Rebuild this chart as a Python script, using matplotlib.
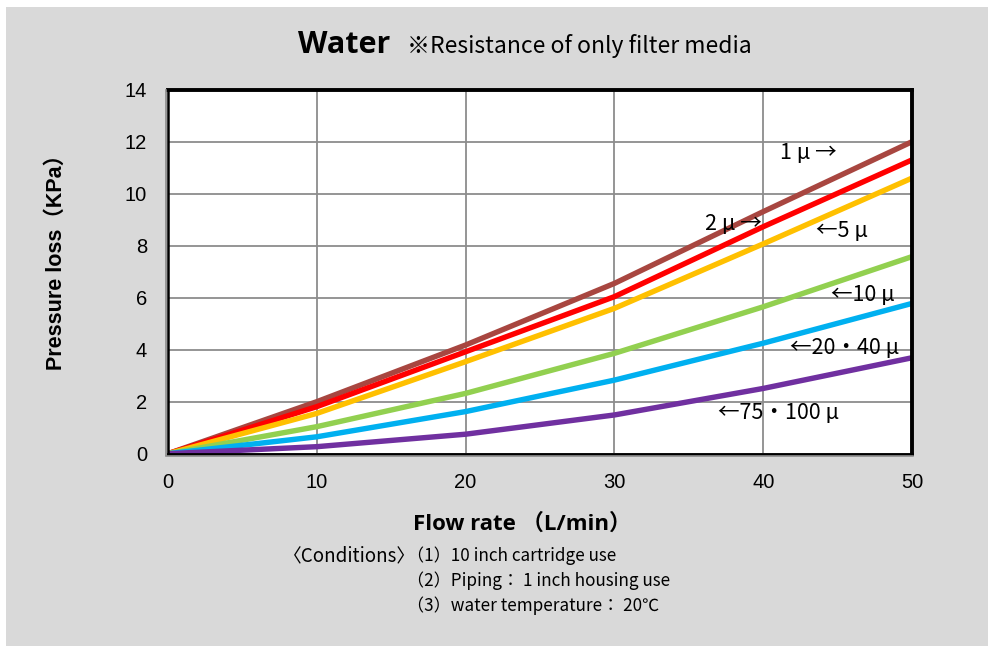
import matplotlib
matplotlib.use("Agg")
import matplotlib.pyplot as plt
from matplotlib.patches import Rectangle
from matplotlib.lines import Line2D

# flow rate (L/min) and pressure loss (KPa)
flow = [0, 10, 20, 30, 40, 50]
loss_1 = [0, 2.0, 4.18, 6.55, 9.31, 12.0]
loss_2 = [0, 1.81, 3.92, 6.04, 8.73, 11.3]
loss_5 = [0, 1.55, 3.54, 5.59, 8.07, 10.6]
loss_10 = [0, 1.04, 2.32, 3.86, 5.65, 7.58]
loss_20_40 = [0, 0.65, 1.62, 2.83, 4.25, 5.78]
loss_75_100 = [0, 0.27, 0.75, 1.49, 2.51, 3.69]

series = [
    (loss_1, "#A84640"),
    (loss_2, "#FF0000"),
    (loss_5, "#FFC000"),
    (loss_10, "#92D050"),
    (loss_20_40, "#00B0F0"),
    (loss_75_100, "#7030A0"),
]

# curve labels: text, x, y in data units
labels = [
    ("1 \u03bc \u2192", 43.0, 11.55),
    ("2 \u03bc \u2192", 38.0, 8.85),
    ("\u21905 \u03bc", 45.3, 8.55),
    ("\u219010 \u03bc", 46.7, 6.1),
    ("\u219020\u30fb40 \u03bc", 45.5, 4.05),
    ("\u219075\u30fb100 \u03bc", 41.0, 1.55),
]

W, H = 988, 646
fig = plt.figure(figsize=(W / 100, H / 100), dpi=100, facecolor="white")
fig.patches.append(Rectangle((6 / W, 0), 1, 1 - 7 / H, transform=fig.transFigure,
                             facecolor="#D9D9D9", edgecolor="none", zorder=-10))

ax = fig.add_axes([168 / W, 1 - 453.7 / H, 744 / W, 364 / H])
ax.set_facecolor("white")
for vals, col in series:
    ax.plot(flow, vals, color=col, lw=3.9, solid_capstyle="butt", zorder=3)

ax.set_xlim(0, 50)
ax.set_ylim(0, 14)
ax.set_xticks(range(0, 51, 10))
ax.set_yticks(range(0, 15, 2))
ax.grid(True, color="#8C8C8C", lw=1.3)
ax.set_axisbelow(True)
ax.tick_params(length=0, labelsize=14.5)
for t in ax.get_xticklabels() + ax.get_yticklabels():
    t.set_family("Liberation Sans")
ax.tick_params(axis="y", pad=15)
ax.tick_params(axis="x", pad=14)

for side in ["top", "right"]:
    ax.spines[side].set_linewidth(2.8)
ax.spines["left"].set_linewidth(1.8)
ax.spines["bottom"].set_linewidth(2.0)
for s in ax.spines.values():
    s.set_color("black")
    s.set_zorder(5)
# grey outer edge along the left and bottom, like the original frame
fig.add_artist(Line2D([166 / W, 166 / W], [1 - 455 / H, 1 - 90 / H], color="#8C8C8C", lw=1.2))
fig.add_artist(Line2D([166 / W, 913 / W], [1 - 455.5 / H, 1 - 455.5 / H], color="#8C8C8C", lw=1.2))

cjk = ["Noto Sans CJK JP", "DejaVu Sans"]
for txt, x, y in labels:
    ax.text(x, y, txt, fontsize=15.5, family=cjk, ha="center", va="center", zorder=4)

ax.set_ylabel("Pressure loss\uff08KPa\uff09", fontsize=15.5, fontweight="bold",
              family=["Liberation Sans", "Noto Sans CJK JP"])
ax.yaxis.set_label_coords(-0.136, 0.54)

fig.text(298 / W, 1 - 45 / H, "Water", fontsize=22, fontweight="bold",
         family=["Open Sans", "Noto Sans CJK JP"], va="center", ha="left")
fig.text(407 / W, 1 - 46 / H, "\u203bResistance of only filter media", fontsize=16.5,
         family=["Noto Sans CJK JP"], va="center", ha="left")

fig.text(522 / W, 1 - 524 / H, "Flow rate \uff08L/min\uff09", fontsize=16, fontweight="bold",
         family=["Open Sans", "Noto Sans CJK JP"], va="center", ha="center")

cond_head = "\u3008Conditions\u3009"
cond = ["\uff081\uff0910 inch cartridge use",
        "\uff082\uff09Piping\uff1a 1 inch housing use",
        "\uff083\uff09water temperature\uff1a 20\u2103"]
fig.text(416 / W, 1 - 556 / H, cond_head, fontsize=13.5, family=cjk, va="center", ha="right")
for i, line in enumerate(cond):
    fig.text(407 / W, 1 - (556 + 25 * i) / H, line, fontsize=12.3, family=cjk,
             va="center", ha="left")

fig.savefig("out.png", dpi=100, facecolor=fig.get_facecolor())
